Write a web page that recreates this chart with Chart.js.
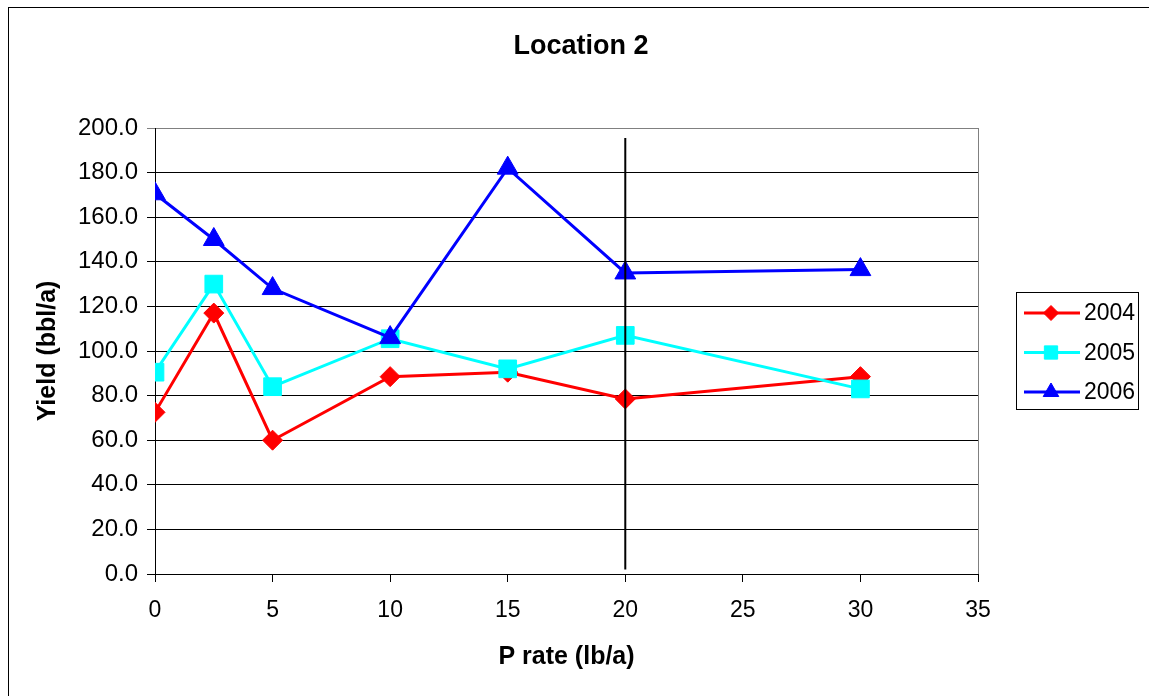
<!DOCTYPE html>
<html>
<head>
<meta charset="utf-8">
<title>Location 2</title>
<script src="https://cdn.jsdelivr.net/npm/chart.js@4/dist/chart.umd.min.js"></script>
<style>
 html, body { margin: 0; padding: 0; background: #fff; overflow: hidden; }
 canvas { display: block; }
</style>
</head>
<body>
<canvas id="idCourbe" width="1149" height="696"></canvas>
<script>
 var FONT = "'Liberation Sans', Arial, sans-serif";

/********************************* Donnees ************************************************************************************/
 var chartTitle = "Location 2";
 var pRates  = [ 0, 2.5, 5, 10, 15, 20, 30 ];
 var yield04 = [ 72.5, 117, 60, 88.5, 90.5, 78.5, 88.5 ];
 var yield05 = [ 90.5, 130, 84, 105.5, 92, 107, 83 ];
 var yield06 = [ 170.5, 150, 128, 106, 182, 135, 136.5 ];
 var seriesNames  = [ "2004", "2005", "2006" ];
 var seriesColors = [ "#FF0000", "#00FFFF", "#0000FF" ];
 var seriesPoints = [ "rectRot", "rect", "triangle" ];
 var seriesRadius = [ 10, 12.5, 12 ];
 var refLineX = [ 20, 20 ];                                                     /* Trait vertical noir a P rate = 20 */
 var refLineY = [ 195.5, 2 ];
 var xTicks = { min: 0, max: 35, step: 5 };
 var yTicks = { min: 0, max: 200, step: 20 };

 function To_points ( xs, ys )
  { return( xs.map( function (x, i) { return( { x: x, y: ys[i] } ); } ) ); }

/********************************* Cadre exterieur, titre, bordure droite et legende ******************************************/
 var Decor_plugin =
  { id: "decor",
    beforeDraw: function (chart)
     { var ctx = chart.ctx;
       ctx.save();
       ctx.fillStyle = "#fff";
       ctx.fillRect( 0, 0, chart.width, chart.height );
       ctx.strokeStyle = "#000";
       ctx.lineWidth = 1;
       ctx.strokeRect( 8.5, 7.5, chart.width + 20, chart.height + 20 );
       ctx.font = "bold 27px " + FONT;
       ctx.fillStyle = "#000";
       ctx.textAlign = "center";
       ctx.textBaseline = "middle";
       ctx.fillText( chartTitle, 581, 47 );
       ctx.restore();
     },
    beforeDatasetsDraw: function (chart)
     { var ctx = chart.ctx, a = chart.chartArea;
       ctx.save();
       ctx.strokeStyle = "#808080";
       ctx.lineWidth = 1;
       ctx.beginPath();
       ctx.moveTo( Math.round(a.right) + 0.5, a.top );
       ctx.lineTo( Math.round(a.right) + 0.5, a.bottom );
       ctx.stroke();
       ctx.restore();
     },
    afterDraw: function (chart)
     { var ctx = chart.ctx;
       ctx.save();
       ctx.strokeStyle = "#000";
       ctx.lineWidth = 1;
       ctx.strokeRect( 1016.5, 292.5, 122, 117 );
       ctx.font = "23px " + FONT;
       ctx.textBaseline = "middle";
       ctx.textAlign = "left";
       for (var i=0; i<seriesNames.length; i++)
        { var y = 313 + i*39.5;
          ctx.strokeStyle = seriesColors[i];
          ctx.lineWidth = 3;
          ctx.beginPath();
          ctx.moveTo( 1024, y );
          ctx.lineTo( 1080, y );
          ctx.stroke();
          ctx.fillStyle = seriesColors[i];
          ctx.lineWidth = 1;
          Chart.helpers.drawPoint( ctx, { pointStyle: seriesPoints[i], radius: seriesRadius[i]*0.75, borderWidth: 1 }, 1051, y );
          ctx.fillStyle = "#000";
          ctx.fillText( seriesNames[i], 1084, y + 1 );
        }
       ctx.restore();
     }
  };

/********************************* Construction des jeux de donnees ***********************************************************/
 var allYields = [ yield04, yield05, yield06 ];
 var datasets = [];
 datasets.push ( { label: "ref", data: To_points( refLineX, refLineY ),
                   borderColor: "#000", borderWidth: 2, pointRadius: 0, order: 0 } );
 for (var i=0; i<seriesNames.length; i++)
  { datasets.push ( { label: seriesNames[i],
                      data: To_points( pRates, allYields[i] ),
                      borderColor: seriesColors[i],
                      backgroundColor: seriesColors[i],
                      borderWidth: 3,
                      tension: 0,
                      pointStyle: seriesPoints[i],
                      pointRadius: seriesRadius[i],
                      pointBorderWidth: 1,
                      order: 3 - i
                    } );
  }

 var options =
  { responsive: false,
    animation: false,
    devicePixelRatio: 1,
    layout: { padding: { left: 0, top: 128, right: 171, bottom: 0 } },
    plugins: { legend: { display: false },
               tooltip: { enabled: false },
               title: { display: false }
             },
    scales:
     { x: { type: "linear", min: xTicks.min, max: xTicks.max,
            afterFit: function (scale) { scale.height = 122; },
            ticks: { stepSize: xTicks.step, color: "#000", padding: 15, maxRotation: 0,
                     font: { family: FONT, size: 23 } },
            grid: { drawOnChartArea: false, drawTicks: true, tickLength: 8, color: "#000" },
            border: { color: "#000", width: 1 },
            title: { display: true, text: "P rate (lb/a)", color: "#000",
                     font: { family: FONT, size: 25, weight: "bold", lineHeight: 1.2 },
                     padding: { top: 0, bottom: 24 } }
          },
       y: { min: yTicks.min, max: yTicks.max,
            afterFit: function (scale) { scale.width = 155; },
            ticks: { stepSize: yTicks.step, color: "#000", padding: 9,
                     font: { family: FONT, size: 24 },
                     callback: function (v) { return( v.toFixed(1) ); } },
            grid: { tickLength: 8, lineWidth: 1,
                    color: function (c) { return( c.tick && c.tick.value == yTicks.max ? "#808080" : "#000" ); } },
            border: { color: "#000", width: 1 },
            title: { display: true, text: "Yield (bbl/a)", color: "#000",
                     font: { family: FONT, size: 25, weight: "bold", lineHeight: 1.2 },
                     padding: { top: 33, bottom: 0 } }
          }
     }
  };

 var ctx = document.getElementById("idCourbe").getContext("2d");
 var chart = new Chart( ctx, { type: "line", data: { datasets: datasets }, options: options, plugins: [ Decor_plugin ] } );
</script>
</body>
</html>
